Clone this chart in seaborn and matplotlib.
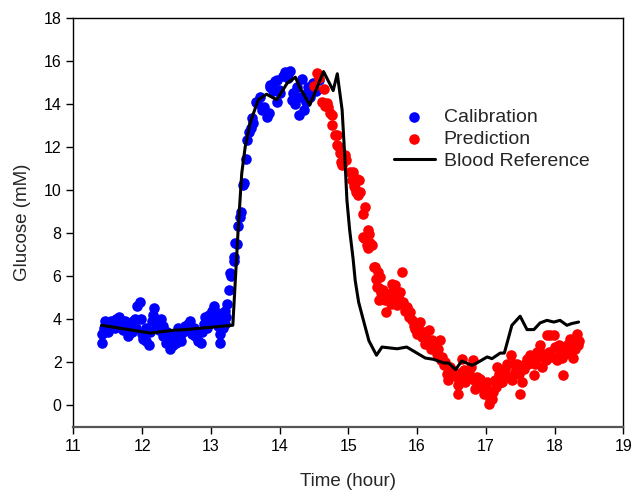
import matplotlib
matplotlib.use("Agg")
import matplotlib.pyplot as plt
import seaborn as sns
import pandas as pd

calib_x = [11.42, 11.42, 11.45, 11.46, 11.50, 11.51, 11.55, 11.56, 11.60, 11.62, 11.65, 11.67,
           11.70, 11.72, 11.75, 11.77, 11.80, 11.82, 11.85, 11.87, 11.90, 11.91, 11.93, 11.97,
           11.98, 12.00, 12.02, 12.05, 12.06, 12.10, 12.11, 12.15, 12.16, 12.18, 12.20, 12.22,
           12.25, 12.27, 12.30, 12.31, 12.35, 12.36, 12.40, 12.41, 12.45, 12.46, 12.50, 12.52,
           12.55, 12.57, 12.60, 12.62, 12.65, 12.67, 12.70, 12.72, 12.75, 12.77, 12.80, 12.82,
           12.85, 12.87, 12.90, 12.92, 12.95, 12.97, 13.00, 13.02, 13.05, 13.06, 13.10, 13.11,
           13.13, 13.14, 13.17, 13.18, 13.20, 13.21, 13.22, 13.23, 13.26, 13.28, 13.29, 13.33,
           13.33, 13.35, 13.38, 13.40, 13.43, 13.44, 13.47, 13.48, 13.51, 13.52, 13.56, 13.58,
           13.60, 13.62, 13.66, 13.67, 13.72, 13.74, 13.77, 13.82, 13.84, 13.86, 13.86, 13.90,
           13.94, 13.96, 13.97, 13.99, 14.01, 14.05, 14.08, 14.12, 14.15, 14.18, 14.20, 14.22,
           14.25, 14.28, 14.30, 14.32, 14.35, 14.38, 14.40, 14.41, 14.45, 14.49, 14.53, 14.57]
calib_y = [2.9, 3.3, 3.6, 3.9, 3.8, 3.4, 3.9, 3.7, 3.6, 4.0, 3.8, 4.1,
           3.8, 3.5, 3.9, 3.6, 3.2, 3.7, 3.4, 3.9, 4.0, 3.6, 4.6, 4.8,
           4.0, 3.3, 3.1, 3.0, 3.6, 2.8, 3.4, 3.9, 4.2, 4.5, 3.6, 3.8,
           3.5, 4.0, 3.7, 3.2, 2.9, 3.4, 2.6, 3.1, 2.8, 3.3, 2.9, 3.6,
           3.2, 3.0, 3.4, 3.7, 3.5, 3.8, 3.9, 3.3, 3.6, 3.2, 3.3, 3.0,
           2.9, 3.4, 3.8, 4.1, 3.6, 4.2, 3.9, 4.4, 4.6, 3.9, 3.7, 4.3,
           2.9, 3.3, 4.0, 3.6, 4.4, 3.8, 4.1, 4.7, 5.35, 6.15, 6.0, 6.9,
           6.7, 7.55, 7.5, 8.34, 8.76, 9.0, 10.23, 10.35, 11.43, 12.33, 12.71, 12.9,
           13.33, 13.1, 14.08, 14.03, 14.34, 13.72, 13.87, 13.41, 13.6, 14.8, 14.88, 14.6,
           15.04, 15.1, 14.1, 14.65, 14.5, 15.3, 15.5, 15.2, 15.55, 14.19, 14.5, 14.0,
           14.8, 13.49, 14.3, 15.16, 13.72, 14.1, 14.5, 14.8, 14.3, 14.96, 14.6, 15.1]

pred_x = [14.50, 14.54, 14.58, 14.62, 14.64, 14.66, 14.69, 14.70, 14.74, 14.76, 14.77, 14.81,
          14.83, 14.84, 14.86, 14.88, 14.89, 14.91, 14.95, 14.97, 15.03, 15.05, 15.07, 15.08,
          15.09, 15.10, 15.11, 15.12, 15.14, 15.16, 15.17, 15.21, 15.22, 15.23, 15.25, 15.27,
          15.28, 15.29, 15.30, 15.32, 15.34, 15.37, 15.39, 15.40, 15.42, 15.43, 15.44, 15.45,
          15.46, 15.48, 15.51, 15.53, 15.55, 15.57, 15.60, 15.62, 15.63, 15.65, 15.66, 15.68,
          15.70, 15.71, 15.73, 15.75, 15.78, 15.80, 15.82, 15.85, 15.88, 15.90, 15.93, 15.95,
          15.97, 16.00, 16.02, 16.05, 16.07, 16.10, 16.12, 16.14, 16.17, 16.20, 16.22, 16.24,
          16.27, 16.29, 16.31, 16.33, 16.35, 16.37, 16.39, 16.41, 16.44, 16.45, 16.48, 16.51,
          16.54, 16.58, 16.59, 16.60, 16.63, 16.65, 16.68, 16.70, 16.73, 16.76, 16.78, 16.81,
          16.83, 16.85, 16.87, 16.90, 16.92, 16.95, 16.98, 17.00, 17.02, 17.04, 17.06, 17.09,
          17.11, 17.13, 17.15, 17.17, 17.19, 17.22, 17.24, 17.26, 17.28, 17.31, 17.34, 17.36,
          17.38, 17.41, 17.43, 17.45, 17.48, 17.50, 17.52, 17.55, 17.57, 17.60, 17.62, 17.65,
          17.68, 17.70, 17.72, 17.75, 17.77, 17.79, 17.82, 17.85, 17.87, 17.89, 17.92, 17.94,
          17.97, 17.99, 18.01, 18.04, 18.06, 18.08, 18.11, 18.13, 18.15, 18.18, 18.20, 18.22,
          18.25, 18.27, 18.28, 18.30, 18.32, 18.34, 18.35]
pred_y = [14.85, 15.43, 15.2, 14.1, 14.68, 13.9, 14.03, 13.87, 13.6, 13.49, 13.02, 12.56,
          12.56, 12.09, 12.02, 11.71, 11.32, 11.15, 11.63, 11.4, 10.85, 10.47, 10.85, 10.47,
          10.2, 10.08, 9.9, 10.5, 9.77, 10.47, 9.9, 8.91, 7.83, 7.75, 9.22, 7.44,
          7.3, 8.14, 7.98, 7.52, 7.44, 6.43, 6.43, 5.89, 5.5, 6.2, 5.43, 4.88,
          5.97, 5.2, 5.35, 4.9, 4.34, 5.0, 5.19, 4.7, 5.66, 5.3, 5.04, 5.58,
          4.9, 4.65, 5.1, 5.27, 6.2, 4.8, 4.4, 4.57, 4.1, 4.34, 3.95, 3.7,
          3.57, 3.33, 3.6, 3.87, 3.18, 3.4, 2.87, 3.1, 3.49, 2.6, 3.02, 2.9,
          2.79, 2.4, 2.6, 3.02, 2.1, 2.25, 1.86, 2.0, 1.47, 1.16, 1.8, 1.63,
          1.4, 1.32, 0.93, 0.54, 1.5, 2.17, 1.63, 1.1, 1.32, 1.5, 1.78, 2.09,
          1.2, 0.78, 1.32, 0.9, 1.24, 1.0, 0.54, 0.8, 1.08, 0.08, 0.3, 0.31,
          0.62, 1.2, 0.85, 1.8, 1.47, 1.1, 1.08, 1.32, 1.7, 1.94, 1.3, 2.33,
          1.16, 1.94, 1.55, 1.9, 1.47, 0.54, 1.08, 1.7, 1.94, 2.17, 1.9, 2.33,
          2.0, 1.4, 1.94, 2.5, 2.25, 2.79, 1.78, 2.4, 2.09, 3.26, 2.48, 3.26,
          2.25, 3.26, 2.71, 2.09, 2.8, 2.48, 2.2, 1.4, 2.4, 2.79, 2.5, 3.1,
          2.56, 2.2, 2.87, 2.63, 3.33, 2.79, 3.0]

ref_x = [11.41, 12.12, 12.46, 12.63, 13.32, 13.40, 13.45, 13.50, 13.57, 13.69, 13.81, 13.96,
         14.11, 14.23, 14.30, 14.44, 14.64, 14.78, 14.84, 14.91, 14.95, 14.98, 15.02, 15.07,
         15.10, 15.15, 15.22, 15.30, 15.41, 15.49, 15.71, 15.85, 16.12, 16.24, 16.39, 16.46,
         16.56, 16.65, 16.80, 16.87, 17.02, 17.09, 17.21, 17.27, 17.38, 17.50, 17.60, 17.70,
         17.79, 17.89, 17.99, 18.08, 18.18, 18.25, 18.35]
ref_y = [3.72, 3.36, 3.49, 3.52, 3.72, 8.3, 10.78, 12.0, 13.1, 14.19, 14.45, 14.19,
         14.96, 15.24, 14.73, 13.95, 15.5, 14.62, 15.4, 13.72, 11.5, 9.53, 8.14, 6.8,
         5.81, 4.8, 3.95, 3.0, 2.33, 2.71, 2.63, 2.71, 2.2, 2.14, 1.97, 1.97,
         1.66, 2.06, 1.86, 1.97, 2.25, 2.17, 2.43, 2.43, 3.72, 4.14, 3.52, 3.52,
         3.83, 3.95, 3.87, 3.95, 3.72, 3.8, 3.87]

x_ticks = [11, 12, 13, 14, 15, 16, 17, 18, 19]
y_ticks = [0, 2, 4, 6, 8, 10, 12, 14, 16, 18]

sns.set_theme(style="ticks")
plt.rcParams['font.family'] = ['Liberation Sans', 'DejaVu Sans']

calib = pd.DataFrame({"x": calib_x, "y": calib_y})
pred = pd.DataFrame({"x": pred_x, "y": pred_y})
ref = pd.DataFrame({"x": ref_x, "y": ref_y})

fig = plt.figure(figsize=(6.35, 4.93), dpi=100)
ax = fig.add_axes([0.1155, 0.134, 0.866, 0.830])

sns.scatterplot(data=calib, x="x", y="y", ax=ax, color="#0000ff", s=58,
                linewidth=0, label="Calibration", zorder=2)
sns.scatterplot(data=pred, x="x", y="y", ax=ax, color="#ff0000", s=58,
                linewidth=0, label="Prediction", zorder=2)
sns.lineplot(data=ref, x="x", y="y", ax=ax, color="black", linewidth=2.2,
             estimator=None, sort=False, label="Blood Reference", zorder=3)

ax.set_xlim(11, 19)
ax.set_ylim(-1, 18)
ax.set_xticks(x_ticks)
ax.set_yticks(y_ticks)
ax.tick_params(axis='both', which='both', direction='out', length=5, width=1,
               labelsize=11.5, colors='black', top=False, right=False)
ax.set_xlabel("Time (hour)", fontsize=13.5, labelpad=14)
ax.set_ylabel("Glucose (mM)", fontsize=13.5, labelpad=9)

for side in ["top", "right", "left"]:
    ax.spines[side].set_visible(True)
    ax.spines[side].set_color("black")
    ax.spines[side].set_linewidth(1.0)
ax.spines["bottom"].set_color("#555555")
ax.spines["bottom"].set_linewidth(1.6)

leg = ax.legend(loc="upper left", bbox_to_anchor=(0.583, 0.778), frameon=False,
                fontsize=14, borderaxespad=0, borderpad=0, handlelength=2.1,
                handletextpad=0.45, labelspacing=0.22, markerscale=1.0)

fig.savefig("out.png", dpi=100)
